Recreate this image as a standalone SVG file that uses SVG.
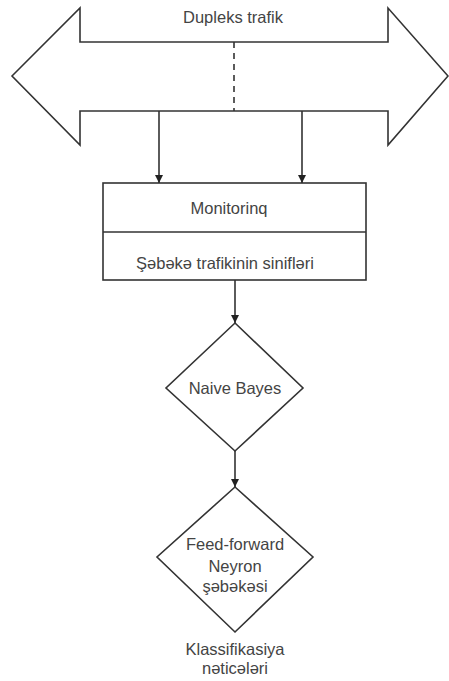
<svg xmlns="http://www.w3.org/2000/svg" width="449" height="681" viewBox="0 0 449 681">
<defs>
<marker id="ah" viewBox="0 0 8 10" refX="8" refY="5" markerWidth="8" markerHeight="10" markerUnits="userSpaceOnUse" orient="auto">
<path d="M0,1 L8,5 L0,9 Z" fill="#222"/>
</marker>
</defs>
<style>
.s{fill:#fff;stroke:#333;stroke-width:1.6;stroke-linejoin:miter}
.c{fill:none;stroke:#333;stroke-width:1.6}
.t{font-family:"Liberation Sans",Arial,sans-serif;font-size:16.5px;fill:#444;text-anchor:middle}
</style>
<rect width="449" height="681" fill="#fff"/>
<g id="duplex">
<path class="s" d="M12,76 L80,8 L80,42 L388,42 L388,8 L448,76 L388,145 L388,111 L80,111 L80,145 Z"/>
<text class="t" x="233" y="23">Dupleks trafik</text>
</g>
<g id="monitoring">
<rect class="s" x="103" y="183" width="263" height="97"/>
<line class="c" x1="103" y1="232" x2="366" y2="232"/>
<text class="t" x="229" y="214">Monitorinq</text>
<text class="t" x="225" y="269">Şəbəkə trafikinin sinifləri</text>
</g>
<g id="naive-bayes">
<path class="s" d="M235,323 L303,388 L235,451 L166,388 Z"/>
<text class="t" x="235" y="394">Naive Bayes</text>
</g>
<g id="feed-forward">
<path class="s" d="M235,487 L313,557 L235,632 L157,557 Z"/>
<text class="t" x="235" y="550">Feed-forward</text>
<text class="t" x="235" y="572">Neyron</text>
<text class="t" x="235" y="592">şəbəkəsi</text>
</g>
<g id="result">
<text class="t" x="235" y="655">Klassifikasiya</text>
<text class="t" x="235" y="674">nəticələri</text>
</g>
<g id="connectors">
<line class="c" x1="234" y1="42" x2="234" y2="111" stroke-dasharray="6,5"/>
<line class="c" x1="159" y1="111" x2="159" y2="183" marker-end="url(#ah)"/>
<line class="c" x1="302" y1="111" x2="302" y2="183" marker-end="url(#ah)"/>
<line class="c" x1="235" y1="280" x2="235" y2="323" marker-end="url(#ah)"/>
<line class="c" x1="235" y1="451" x2="235" y2="487" marker-end="url(#ah)"/>
</g>
</svg>
